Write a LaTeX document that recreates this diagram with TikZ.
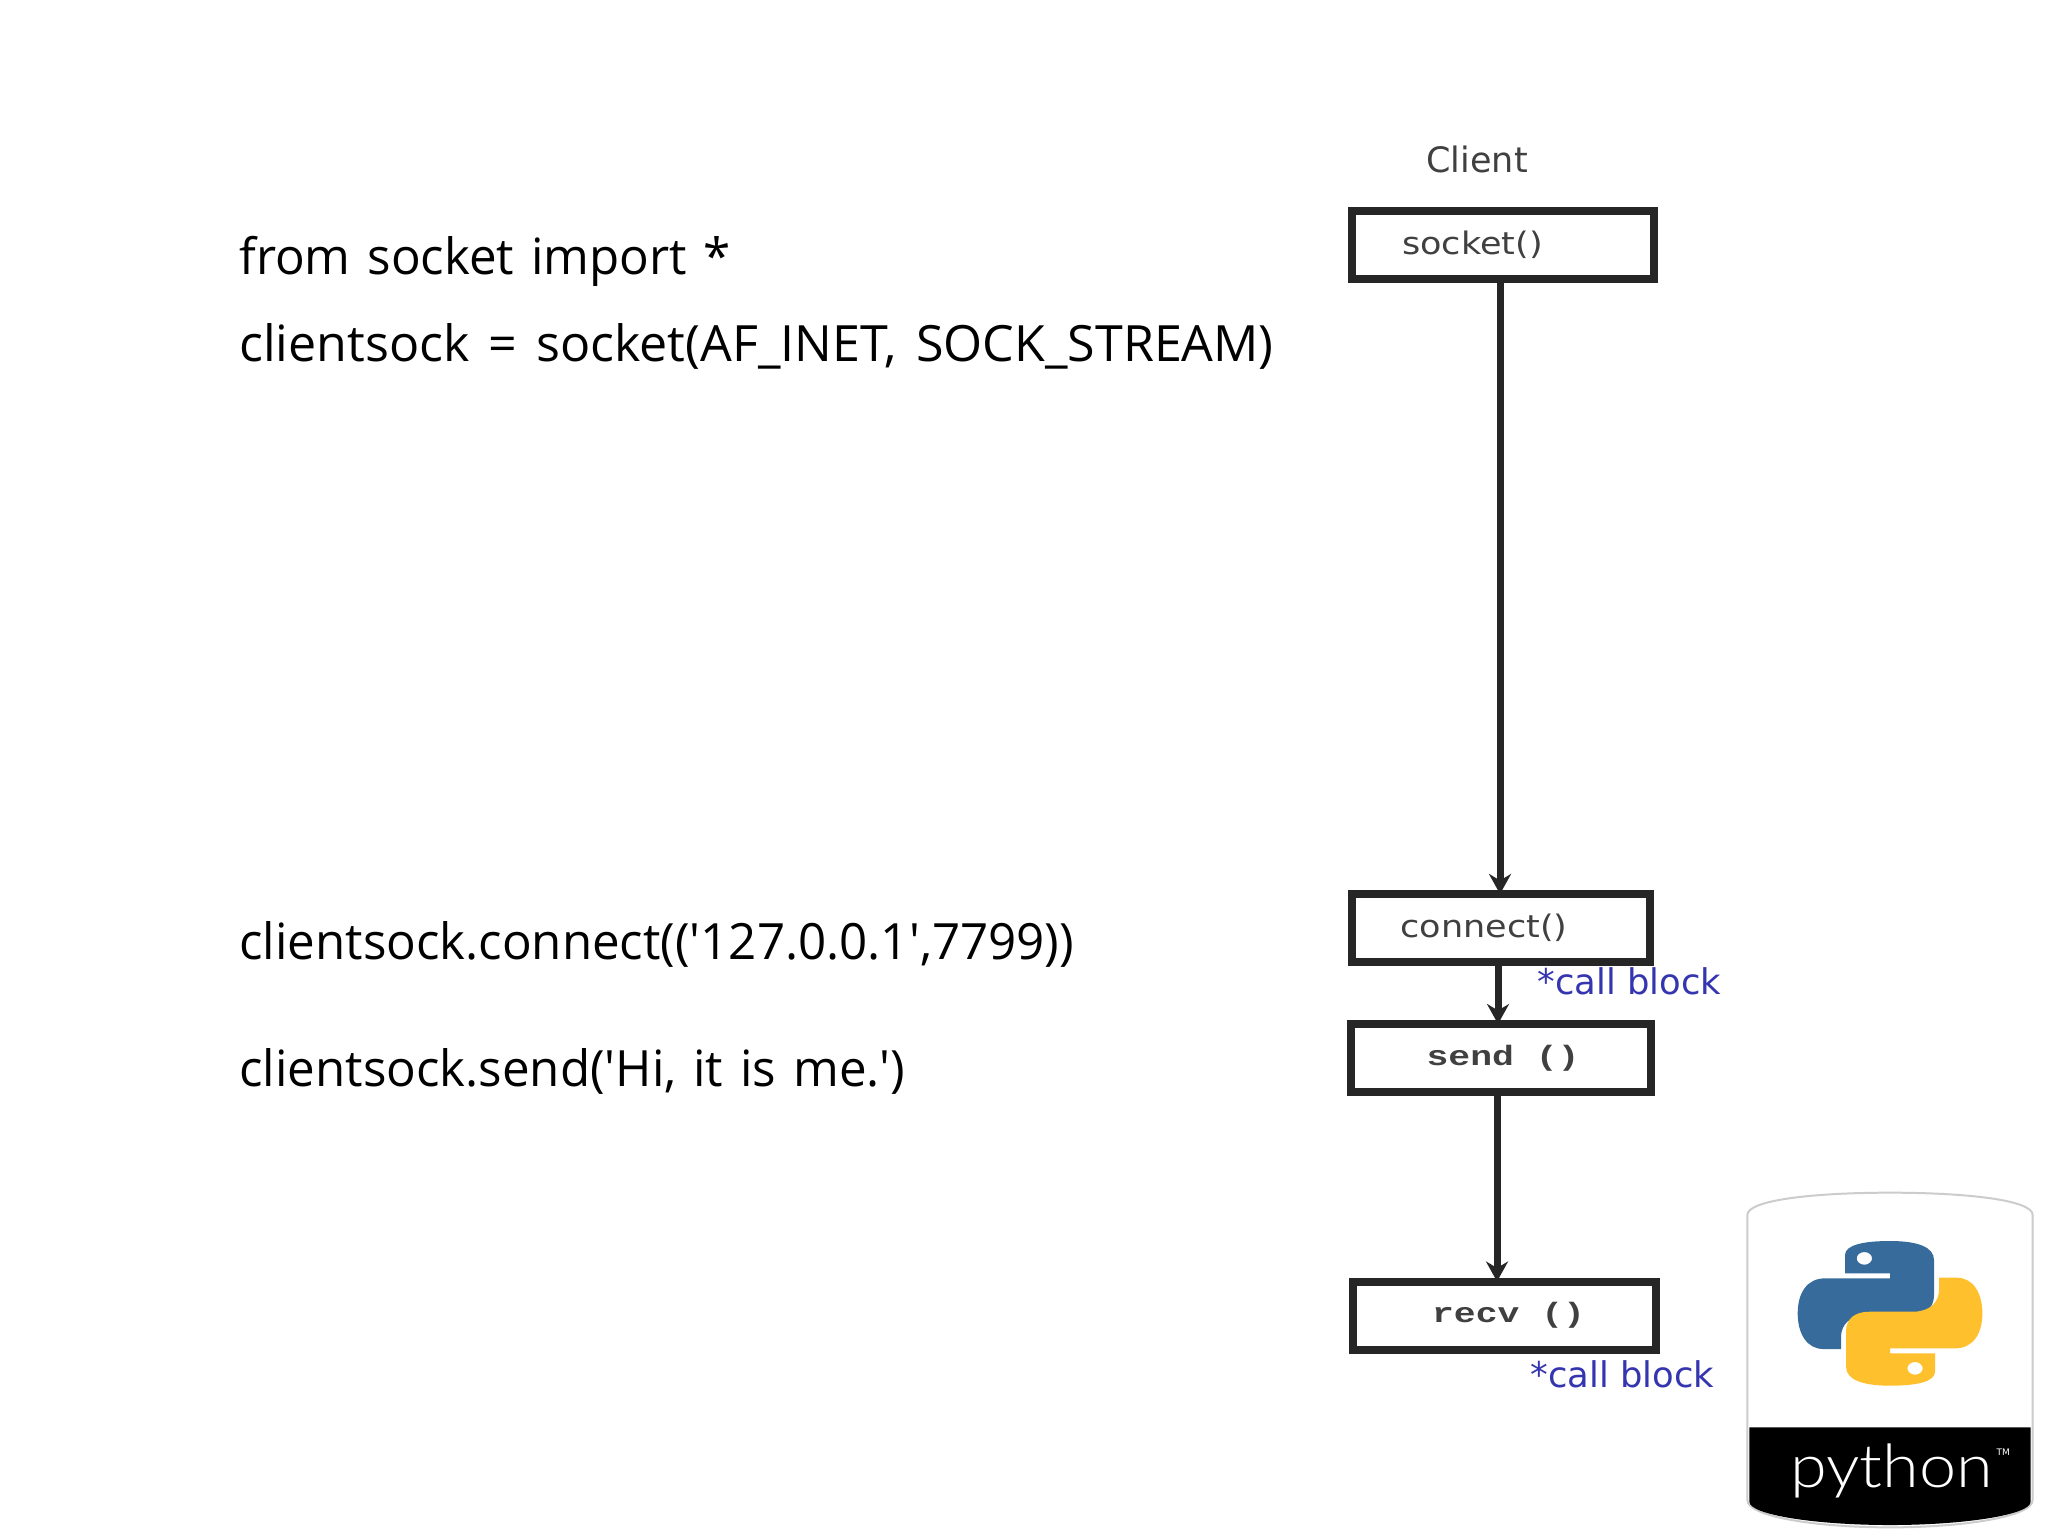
\documentclass[tikz,border=0pt]{standalone}
\usepackage{fontspec}
\usetikzlibrary{arrows.meta}
\newfontfamily\codef[FakeStretch=0.985]{Open Sans}
\newfontfamily\codewidef[FakeStretch=1.003]{Open Sans}
\newfontfamily\diagf{DejaVu Sans}
\newfontfamily\boxf[FakeStretch=1.13]{DejaVu Sans}
\newfontfamily\monof[FakeStretch=1.3]{Liberation Mono}
\newfontfamily\logof[FakeStretch=1.11]{Lato Light}
\definecolor{boxblack}{HTML}{262626}
\definecolor{callblue}{HTML}{3535B0}
\definecolor{pyblue}{HTML}{366B9B}
\definecolor{pyyellow}{HTML}{FFC02E}
\tikzset{
  codetext/.style={anchor=base west,inner sep=0pt,font={\codef\fontsize{25}{30}\selectfont\spaceskip=8.5pt\relax},text=black},
  codewide/.style={codetext,font={\codewidef\fontsize{25}{30}\selectfont\spaceskip=9.5pt\relax}},
  fbox/.style={draw=boxblack,line width=4pt,fill=white,minimum width=151pt,minimum height=34pt,inner sep=0pt,text=black!75,outer sep=0pt},
  sanslabel/.style={font=\boxf\fontsize{15.5}{20}\selectfont},
  monolabel/.style={font=\monof\bfseries\fontsize{14}{17}\selectfont},
  calltext/.style={anchor=base west,inner sep=0pt,text=callblue,font=\diagf\fontsize{17.7}{21}\selectfont},
  flow/.style={draw=boxblack,line width=3.5pt,-{Stealth[length=10pt,width=11pt]}},
}
\begin{document}
\begin{tikzpicture}[x=0.5pt,y=-0.5pt]
\useasboundingbox[fill=white] (0,0) rectangle (2048,1536);
% code
\node[codetext] (l1) at (239,274) {from socket import *};
\node[codewide] (l2) at (239,361) {clientsock = socket(AF\_INET, SOCK\_STREAM)};
\node[codetext] (l3) at (239,959) {clientsock.connect(('127.0.0.1',7799))};
\node[codetext] (l4) at (239,1086) {clientsock.send('Hi, it is me.')};
% diagram
\node[anchor=base west,inner sep=0pt,text=black!75,font=\diagf\fontsize{17.5}{21}\selectfont] (client) at (1426,172) {Client};
\node[fbox,sanslabel] (socket) at (1502.5,244.5) {socket()\kern30pt};
\node[fbox,sanslabel,minimum width=149pt] (connect) at (1501,928) {connect()\kern17pt};
\node[fbox,monolabel,minimum width=150pt] (send) at (1501,1058) {\kern2pt send ()};
\node[fbox,monolabel,minimum width=151.5pt] (recv) at (1504.5,1315.5) {\kern4pt recv ()};
\node[calltext] (call1) at (1537,994) {*call block};
\node[calltext] (call2) at (1530,1387) {*call block};
\draw[flow] ([xshift=-1.25pt]socket.south) -- ([xshift=-0.5pt]connect.north);
\draw[flow] ([xshift=-1.5pt]connect.south) -- ([xshift=-1.5pt]send.north);
\draw[flow] ([xshift=-2pt]send.south) -- ([xshift=-3.75pt]recv.north);
% python badge
\begin{scope}[shift={(1730,1180)},x=0.16667pt,y=-0.16667pt]
  \draw[draw=black!20,line width=1pt,fill=white] (52,105) .. controls (52,60) and (250,38) .. (480,38) .. controls (710,38) and (908,60) .. (908,105) -- (908,960) .. controls (908,1010) and (700,1042) .. (480,1042) .. controls (260,1042) and (52,1010) .. (52,960) -- cycle;
  \fill[black] (58,742) -- (902,742) -- (902,965) .. controls (902,1005) and (700,1035) .. (480,1035) .. controls (260,1035) and (58,1005) .. (58,965) -- cycle;
  \fill[pyblue,even odd rule] (345,280) -- (345,225) .. controls (345,195) and (400,183) .. (480,183) .. controls (560,183) and (612,200) .. (612,240) -- (612,345) .. controls (612,385) and (585,405) .. (540,405) -- (410,405) .. controls (360,405) and (333,435) .. (333,470) -- (333,507) -- (280,507) .. controls (230,507) and (203,460) .. (203,400) .. controls (203,340) and (230,295) .. (285,295) -- (480,295) -- (480,280) -- cycle (426,235) arc[x radius=23,y radius=19,start angle=0,end angle=360];
  \fill[pyyellow,even odd rule] (615,520) -- (615,575) .. controls (615,605) and (560,617) .. (480,617) .. controls (400,617) and (348,600) .. (348,560) -- (348,455) .. controls (348,415) and (375,395) .. (420,395) -- (550,395) .. controls (600,395) and (627,365) .. (627,330) -- (627,293) -- (680,293) .. controls (730,293) and (757,340) .. (757,400) .. controls (757,460) and (730,505) .. (675,505) -- (480,505) -- (480,520) -- cycle (578,565) arc[x radius=23,y radius=19,start angle=0,end angle=360];
  \node[anchor=base west,inner sep=0pt,text=white,font=\logof\fontsize{30}{36}\selectfont] (pytext) at (180,922) {python};
  \node[anchor=center,inner sep=0pt,text=white,font=\diagf\fontsize{4.5}{6}\selectfont] (tm) at (820,817) {TM};
\end{scope}
\end{tikzpicture}
\end{document}
